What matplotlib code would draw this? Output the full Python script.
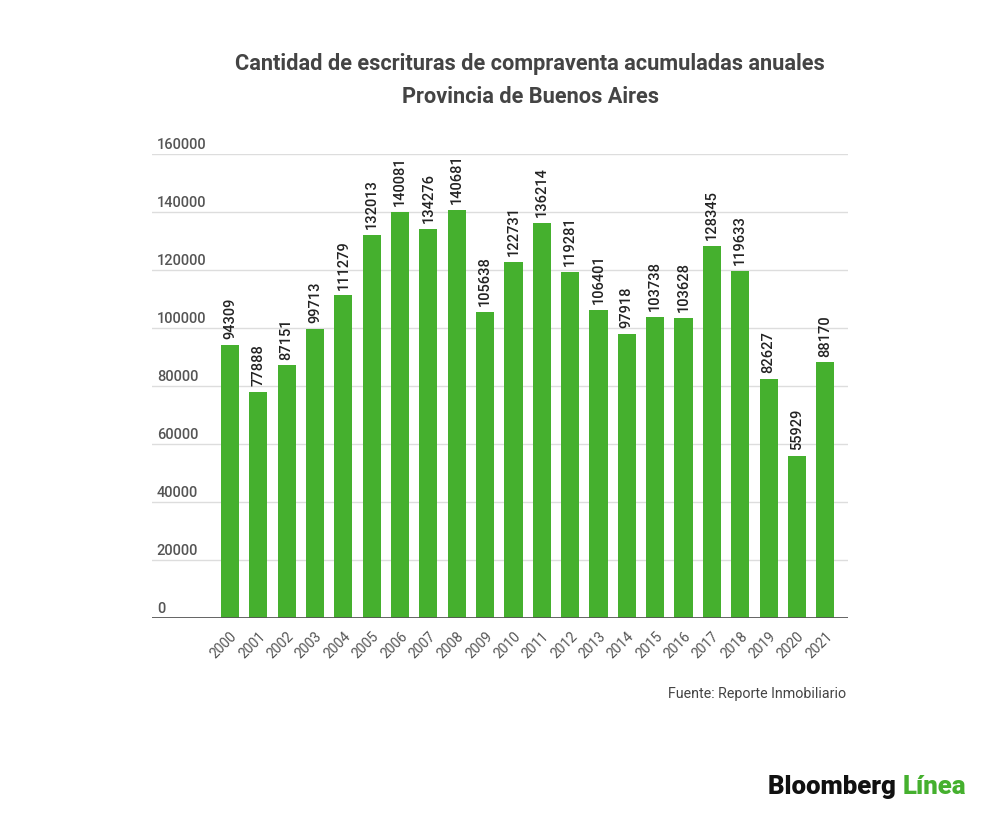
import matplotlib.pyplot as plt
from matplotlib import transforms

plt.rcParams['font.family'] = ['Roboto', 'DejaVu Sans']

years = [str(y) for y in range(2000, 2022)]
values = [94309, 77888, 87151, 99713, 111279, 132013, 140081, 134276, 140681, 105638,
          122731, 136214, 119281, 106401, 97918, 103738, 103628, 128345, 119633, 82627,
          55929, 88170]
yticks = [0, 20000, 40000, 60000, 80000, 100000, 120000, 140000, 160000]

GREEN = '#45b02e'

fig = plt.figure(figsize=(10, 8.19), dpi=100)
ax = fig.add_axes([0.152, 0.245, 0.696, 0.567])

x = list(range(len(years)))
ax.bar(x, values, width=0.64, color=GREEN, zorder=3)

for xi, v in zip(x, values):
    ax.text(xi, v + 2000, str(v), rotation=90, ha='center', va='bottom',
            fontsize=10.5, fontweight='medium', color='#222222', zorder=4)

ax.set_xlim(-2.75, 21.8)
ax.set_ylim(0, 160000)

for t in yticks[1:]:
    ax.axhline(t, color='#dddddd', linewidth=1, zorder=1)
ax.axhline(0, color='#555555', linewidth=2, zorder=5)

trans = transforms.blended_transform_factory(ax.transAxes, ax.transData)
for t in yticks:
    ax.text(0.007, t + 3100, str(t), transform=trans, ha='left', va='center',
            fontsize=10.5, fontweight='medium', color='#555555')

ax.set_yticks([])
ax.set_xticks(x)
ax.set_xticklabels(years, rotation=45, ha='right', rotation_mode='anchor',
                   fontsize=10, color='#555555')
ax.tick_params(axis='x', length=0, pad=8)
for s in ax.spines.values():
    s.set_visible(False)

fig.text(0.53, 0.922, 'Cantidad de escrituras de compraventa acumuladas anuales',
         ha='center', va='center', fontsize=15.7, fontweight='bold', color='#444444')
fig.text(0.53, 0.882, 'Provincia de Buenos Aires',
         ha='center', va='center', fontsize=15.7, fontweight='bold', color='#444444')

fig.text(0.846, 0.153, 'Fuente: Reporte Inmobiliario', ha='right', va='center',
         fontsize=10.3, color='#444444')

t1 = fig.text(0.768, 0.039, 'Bloomberg ', ha='left', va='center',
              fontsize=18.5, fontweight='heavy', color='#111111')
fig.canvas.draw()
bb = t1.get_window_extent()
fig.text(bb.x1 / fig.bbox.width, 0.039, 'Línea', ha='left', va='center',
         fontsize=18.5, fontweight='heavy', color=GREEN)

fig.savefig('out.png', dpi=100, facecolor='white')
